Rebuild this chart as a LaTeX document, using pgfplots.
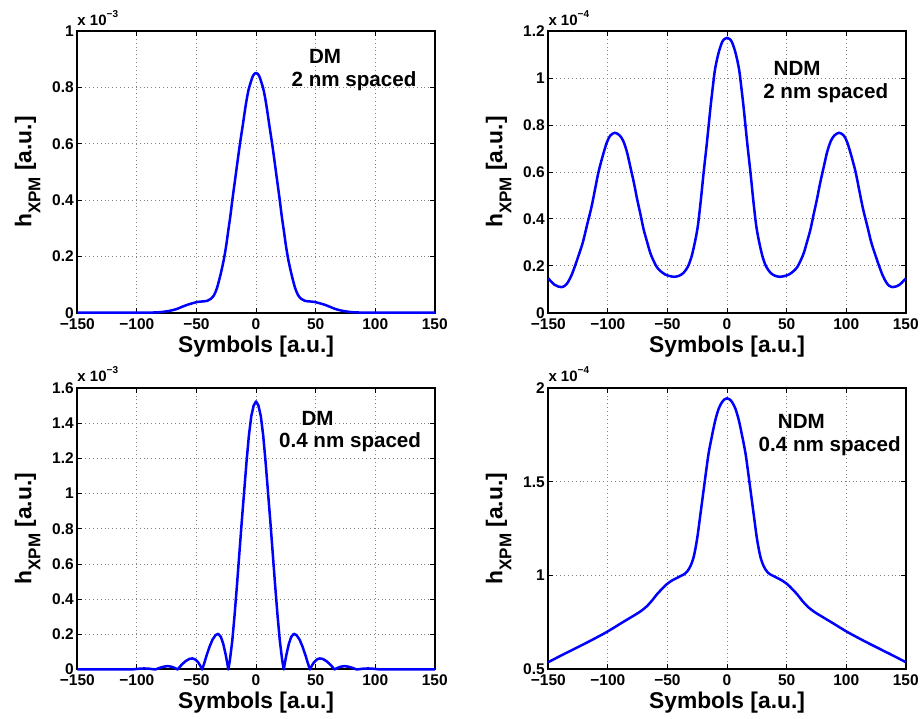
\documentclass[border=0pt]{standalone}
\usepackage{pgfplots}
\pgfplotsset{compat=1.18}
\usepackage{fontspec}
\setmainfont{Liberation Sans}

\newcommand{\tickfont}{\fontsize{15.5}{18}\selectfont\bfseries}
\newcommand{\labfont}{\fontsize{22.8}{27}\selectfont\bfseries}
\newcommand{\annfont}{\fontsize{20.6}{24}\selectfont\bfseries}
\newcommand{\expfont}{\fontsize{15}{17}\selectfont\bfseries}
\newcommand{\expo}[1]{x 10\raisebox{8pt}{\fontsize{10}{12}\selectfont #1}}

\pgfplotsset{
  mystyle/.style={
    scale only axis, width=357.5pt, height=281.5pt,
    anchor=south west, clip=false,
    xmin=-150, xmax=150,
    xtick={-150,-100,-50,0,50,100,150},
    xticklabels={−150,−100,−50,0,50,100,150},
    tick align=inside, tick pos=both,
    major tick length=5pt,
    tick style={black, line width=0.8pt},
    axis line style={line width=2pt},
    grid=major,
    major grid style={gray, line width=0.8pt, dash pattern=on 0.9pt off 3pt},
    tick label style={font=\tickfont},
    xticklabel style={yshift=-2pt},
    xlabel={Symbols [a.u.]},
    ylabel={h\raisebox{-9pt}{\fontsize{17}{19}\selectfont XPM} [a.u.]},
    label style={font=\labfont},
    xlabel style={at={(axis description cs:0.5,-0.143)}, anchor=base},
    ylabel style={at={(axis description cs:-0.139,0.5)}, anchor=center},
  },
  curve/.style={blue, line width=2.5pt, line join=round, mark=none},
}

\begin{document}
\begin{tikzpicture}
\path[use as bounding box] (0pt,0pt) rectangle (922pt,719pt);

% ---------------- top left: DM 2 nm ----------------
\begin{axis}[mystyle, at={(77.3pt,406.3pt)},
  ymin=0, ymax=1, ytick={0,0.2,0.4,0.6,0.8,1},
  yticklabels={0,0.2,0.4,0.6,0.8,1}]
\addplot[curve, smooth] coordinates {
(-150,0) (-100,0) (-90,0.0005) (-83,0.001) (-78,0.003) (-74.6,0.005) (-70,0.009)
(-66,0.014) (-62,0.021) (-57.7,0.028) (-53,0.034) (-49.3,0.038) (-45,0.040)
(-41,0.042) (-38,0.049) (-35.3,0.062) (-33,0.085) (-31,0.115) (-29,0.15)
(-26.9,0.192) (-25,0.24) (-23.5,0.286) (-21.5,0.345) (-19.9,0.4) (-17.1,0.488)
(-15.3,0.545) (-13.5,0.6) (-11,0.67) (-8.7,0.736) (-6.5,0.788) (-4.5,0.818)
(-2.5,0.842) (0,0.852)
(2.5,0.842) (4.5,0.818) (6.5,0.788) (8.7,0.736) (11,0.67) (13.5,0.6) (15.3,0.545)
(17.1,0.488) (19.9,0.4) (21.5,0.345) (23.5,0.286) (25,0.24) (26.9,0.192) (29,0.15)
(31,0.115) (33,0.085) (35.3,0.062) (38,0.049) (41,0.042) (45,0.040) (49.3,0.038)
(53,0.034) (57.7,0.028) (62,0.021) (66,0.014) (70,0.009) (74.6,0.005) (78,0.003)
(83,0.001) (90,0.0005) (100,0) (150,0)
};
\node[anchor=base west, inner sep=0pt, font=\expfont] at (rel axis cs:0,1) [yshift=6pt] {\expo{−3}};
\node[font=\annfont] at (rel axis cs:0.693,0.912) {DM};
\node[font=\annfont] at (rel axis cs:0.774,0.823) {2 nm spaced};
\end{axis}

% ---------------- top right: NDM 2 nm ----------------
\begin{axis}[mystyle, at={(548.3pt,406.3pt)},
  ymin=0, ymax=1.2, ytick={0,0.2,0.4,0.6,0.8,1,1.2},
  yticklabels={0,0.2,0.4,0.6,0.8,1,1.2}]
\addplot[curve, smooth] coordinates {
(-150,0.146) (-148,0.135) (-145,0.12) (-142,0.112) (-139,0.109) (-136,0.115)
(-133.5,0.13) (-130.5,0.16) (-127.6,0.199) (-124.5,0.245) (-121,0.30) (-117.7,0.369)
(-114,0.445) (-111,0.52) (-108,0.597) (-104.5,0.665) (-101,0.724) (-98,0.755)
(-94,0.767) (-90,0.755) (-87,0.731) (-84,0.685) (-81.3,0.625) (-78,0.55)
(-75.5,0.485) (-72.5,0.415) (-70,0.355) (-67,0.30) (-64.5,0.256) (-62,0.225)
(-59,0.195) (-56,0.178) (-52,0.163) (-48,0.156) (-44,0.153) (-40,0.158)
(-36.5,0.17) (-33,0.195) (-30,0.235) (-27,0.30) (-24.5,0.37) (-22,0.48)
(-19.6,0.60) (-17,0.72) (-14,0.87) (-12,0.96) (-10,1.04) (-7,1.11) (-4,1.155)
(-2,1.167) (0,1.172)
(2,1.167) (4,1.155) (7,1.11) (10,1.04) (12,0.96) (14,0.87) (17,0.72) (19.6,0.60)
(22,0.48) (24.5,0.37) (27,0.30) (30,0.235) (33,0.195) (36.5,0.17) (40,0.158)
(44,0.153) (48,0.156) (52,0.163) (56,0.178) (59,0.195) (62,0.225) (64.5,0.256)
(67,0.30) (70,0.355) (72.5,0.415) (75.5,0.485) (78,0.55) (81.3,0.625) (84,0.685)
(87,0.731) (90,0.755) (94,0.767) (98,0.755) (101,0.724) (104.5,0.665) (108,0.597)
(111,0.52) (114,0.445) (117.7,0.369) (121,0.30) (124.5,0.245) (127.6,0.199)
(130.5,0.16) (133.5,0.13) (136,0.115) (139,0.109) (142,0.112) (145,0.12)
(148,0.135) (150,0.146)
};
\node[anchor=base west, inner sep=0pt, font=\expfont] at (rel axis cs:0,1) [yshift=6pt] {\expo{−4}};
\node[font=\annfont] at (rel axis cs:0.696,0.868) {NDM};
\node[font=\annfont] at (rel axis cs:0.776,0.779) {2 nm spaced};
\end{axis}

% ---------------- bottom left: DM 0.4 nm ----------------
\begin{axis}[mystyle, at={(77.3pt,49.5pt)},
  ymin=0, ymax=1.6, ytick={0,0.2,0.4,0.6,0.8,1,1.2,1.4,1.6},
  yticklabels={0,0.2,0.4,0.6,0.8,1,1.2,1.4,1.6},
  xlabel style={at={(axis description cs:0.5,-0.140)}}]
\addplot[curve] coordinates {
(-150,0) (-118,0) (-110,0.001) (-104,0) (-99,0.004) (-93.9,0.006) (-89,0.004)
(-84.5,0) (-81,0.009) (-77.5,0.016) (-74.2,0.019) (-71,0.016) (-68,0.008)
(-65.8,0) (-64,0.015) (-62,0.03) (-59,0.048) (-56,0.06) (-53.5,0.063)
(-51,0.057) (-48.5,0.04) (-46.5,0.018) (-45.2,0) (-43.5,0.035) (-41.5,0.08)
(-39,0.13) (-36.5,0.17) (-34,0.195) (-31.7,0.203) (-29.5,0.185) (-27.5,0.145)
(-25.5,0.085) (-24,0.03) (-23.3,0) (-22,0.05) (-20,0.16) (-18,0.31) (-16,0.48)
(-14,0.66) (-12,0.84) (-10,1.01) (-8,1.18) (-6,1.33) (-4,1.44) (-2,1.50) (0,1.524)
(2,1.50) (4,1.44) (6,1.33) (8,1.18) (10,1.01) (12,0.84) (14,0.66) (16,0.48)
(18,0.31) (20,0.16) (22,0.05) (23.3,0) (24,0.03) (25.5,0.085) (27.5,0.145)
(29.5,0.185) (31.7,0.203) (34,0.195) (36.5,0.17) (39,0.13) (41.5,0.08)
(43.5,0.035) (45.2,0) (46.5,0.018) (48.5,0.04) (51,0.057) (53.5,0.063) (56,0.06)
(59,0.048) (62,0.03) (64,0.015) (65.8,0) (68,0.008) (71,0.016) (74.2,0.019)
(77.5,0.016) (81,0.009) (84.5,0) (89,0.004) (93.9,0.006) (99,0.004) (104,0)
(110,0.001) (118,0) (150,0)
};
\node[anchor=base west, inner sep=0pt, font=\expfont] at (rel axis cs:0,1) [yshift=6pt] {\expo{−3}};
\node[font=\annfont] at (rel axis cs:0.672,0.892) {DM};
\node[font=\annfont] at (rel axis cs:0.763,0.809) {0.4 nm spaced};
\end{axis}

% ---------------- bottom right: NDM 0.4 nm ----------------
\begin{axis}[mystyle, at={(548.3pt,49.5pt)},
  ymin=0.5, ymax=2, ytick={0.5,1,1.5,2},
  yticklabels={0.5,1,1.5,2},
  xlabel style={at={(axis description cs:0.5,-0.140)}}]
\addplot[curve, smooth] coordinates {
(-150,0.539) (-140,0.572) (-129,0.607) (-115,0.652) (-100.9,0.70) (-88,0.75)
(-75.7,0.797) (-71.5,0.815) (-67.3,0.837) (-63,0.867) (-58.9,0.90) (-54.5,0.93)
(-50.5,0.955) (-46,0.975) (-42,0.988) (-39,0.998) (-36.4,1.006) (-33.5,1.022)
(-30.8,1.05) (-28,1.10) (-25.2,1.193) (-22.5,1.32) (-19.6,1.459) (-17.5,1.56)
(-15.4,1.655) (-12.5,1.75) (-9.8,1.83) (-7,1.89) (-4.2,1.925) (-2,1.94) (0,1.945)
(2,1.94) (4.2,1.925) (7,1.89) (9.8,1.83) (12.5,1.75) (15.4,1.655) (17.5,1.56)
(19.6,1.459) (22.5,1.32) (25.2,1.193) (28,1.10) (30.8,1.05) (33.5,1.022)
(36.4,1.006) (39,0.998) (42,0.988) (46,0.975) (50.5,0.955) (54.5,0.93)
(58.9,0.90) (63,0.867) (67.3,0.837) (71.5,0.815) (75.7,0.797) (88,0.75)
(100.9,0.70) (115,0.652) (129,0.607) (140,0.572) (150,0.539)
};
\node[anchor=base west, inner sep=0pt, font=\expfont] at (rel axis cs:0,1) [yshift=6pt] {\expo{−4}};
\node[font=\annfont] at (rel axis cs:0.708,0.883) {NDM};
\node[font=\annfont] at (rel axis cs:0.787,0.794) {0.4 nm spaced};
\end{axis}
\end{tikzpicture}
\end{document}
